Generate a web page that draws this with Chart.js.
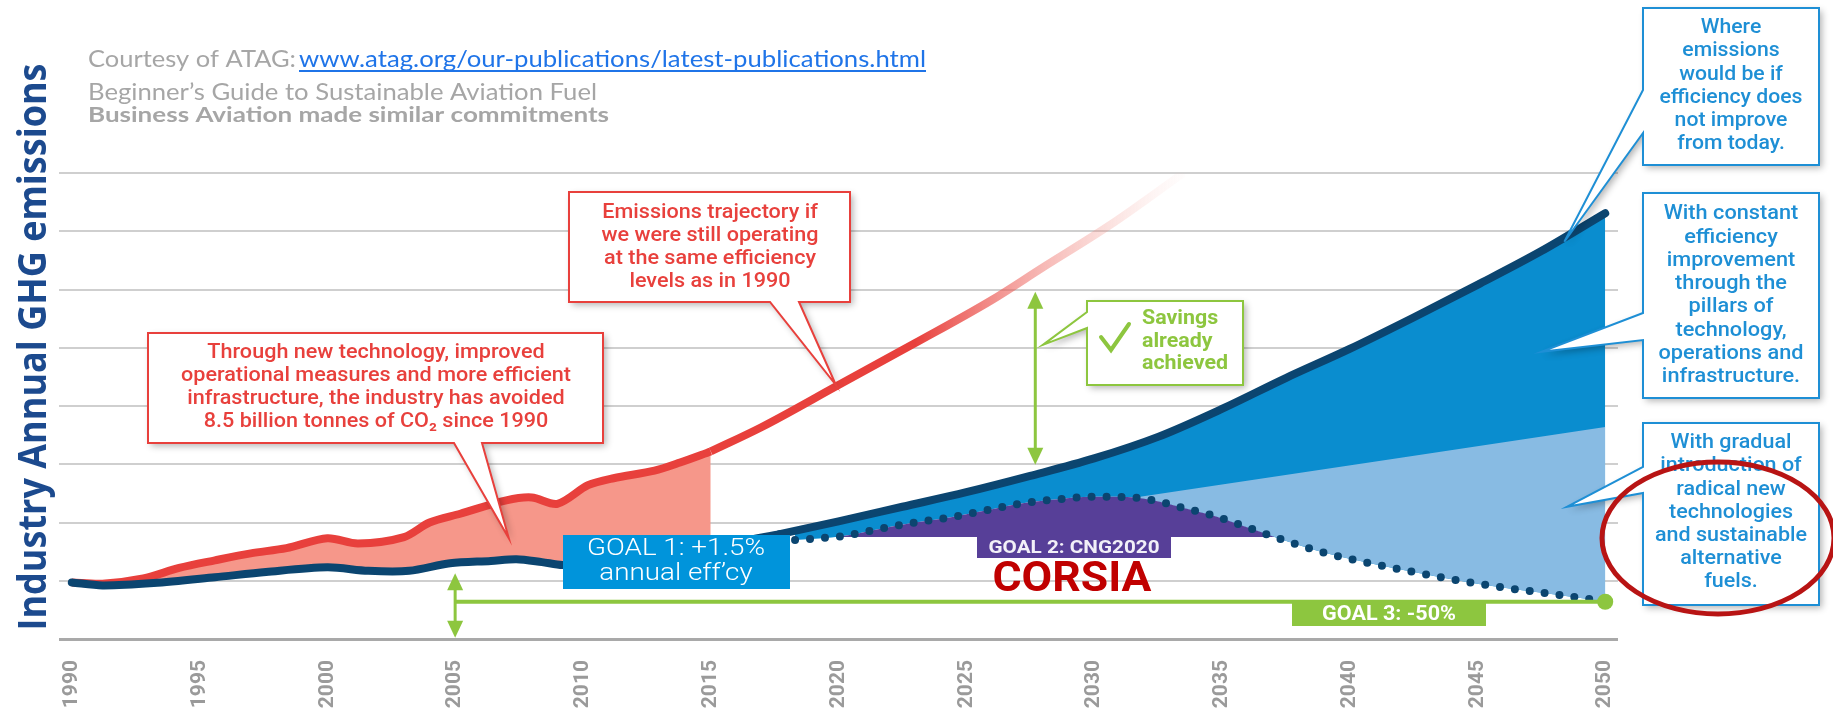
<!DOCTYPE html>
<html>
<head>
<meta charset="utf-8">
<script src="https://cdn.jsdelivr.net/npm/chart.js@4.4.1/dist/chart.umd.min.js"></script>
<style>
html, body { margin: 0; padding: 0; background: #fff; }
#wrap { width: 1833px; height: 708px; position: relative; }
</style>
</head>
<body>
<div id="wrap"><canvas id="ghg"></canvas></div>
<script>
// x axis ticks
var tickYears = [1990, 1995, 2000, 2005, 2010, 2015, 2020, 2025, 2030, 2035, 2040, 2045, 2050];
var tickLabels = ['1990', '1995', '2000', '2005', '2010', '2015', '2020', '2025', '2030', '2035', '2040', '2045', '2050'];

// emissions if still at 1990 efficiency (historic part, filled)
var redPastYears  = [1990, 1991.2, 1992.8, 1994.2, 1995.6, 1997, 1998.4, 2000, 2001.2, 2003, 2004, 2005.2, 2007, 2008, 2009, 2010.2, 2011.2, 2012.8, 2013.8, 2015];
var redPastValues = [0.97, 0.95, 1.04, 1.22, 1.35, 1.47, 1.56, 1.73, 1.64, 1.75, 2.0, 2.15, 2.38, 2.43, 2.32, 2.64, 2.76, 2.89, 3.03, 3.22];
// same trajectory continued (fading out)
var redFutureYears  = [2015, 2017, 2020, 2023, 2026, 2028, 2030.6, 2033.5];
var redFutureValues = [3.22, 3.64, 4.36, 5.08, 5.82, 6.38, 7.10, 8.0];

// actual industry emissions
var navyPastYears  = [1990, 1991.2, 1993.2, 1995.6, 1997.6, 2000, 2001.6, 2003.2, 2004.8, 2006.4, 2007.4, 2008.4, 2009.2, 2010, 2012, 2014, 2016, 2017.7];
var navyPastValues = [0.97, 0.92, 0.96, 1.06, 1.15, 1.23, 1.17, 1.17, 1.30, 1.34, 1.37, 1.32, 1.27, 1.30, 1.42, 1.53, 1.66, 1.80];
// where emissions would be if efficiency does not improve from today
var navyFutureYears  = [2017.7, 2020, 2022.5, 2025, 2027.5, 2030, 2032.5, 2035, 2037.5, 2040, 2042.5, 2045, 2047.5, 2050];
var navyFutureValues = [1.80, 2.02, 2.27, 2.52, 2.80, 3.10, 3.47, 3.95, 4.48, 4.98, 5.52, 6.08, 6.66, 7.31];

// with constant efficiency improvement (top of light blue wedge)
var constEffYears  = [2031.8, 2042, 2050];
var constEffValues = [2.44, 3.11, 3.64];

// net emissions path (dotted), CNG2020 then -50%
var netYears  = [2018.3, 2020.2, 2021.6, 2023, 2024.4, 2025.8, 2027.2, 2028.6, 2029.9, 2031, 2032.2, 2033.5, 2034.8, 2036.1, 2037.4, 2039.1, 2040.8, 2042.5, 2044.2, 2045.9, 2047.6, 2049.6, 2050];
var netValues = [1.70, 1.77, 1.89, 2.00, 2.09, 2.21, 2.33, 2.40, 2.44, 2.44, 2.39, 2.25, 2.10, 1.90, 1.70, 1.47, 1.30, 1.15, 1.01, 0.89, 0.79, 0.67, 0.64];

var cng2020Level = 1.75;
var goal3Level = 0.64;
var goal3Start = 2005;
var savingsYear = 2027.7;
var savingsFrom = 2.99;
var savingsTo = 5.96;

var NAVY = '#0b4570';
var RED = '#e8403c';
var GREEN = '#8dc63f';
var BLUE_TXT = '#1e8fd5';

function pts(xs, ys) {
    return xs.map(function (x, i) { return { x: x, y: ys[i] }; });
}

function redFade(context) {
    var chart = context.chart;
    if (!chart.chartArea) return RED;
    var x0 = chart.scales.x.getPixelForValue(2023);
    var x1 = chart.scales.x.getPixelForValue(2034);
    var g = chart.ctx.createLinearGradient(x0, 0, x1, 0);
    g.addColorStop(0, 'rgba(232,64,60,1)');
    g.addColorStop(0.36, 'rgba(236,90,84,0.55)');
    g.addColorStop(0.68, 'rgba(240,130,120,0.25)');
    g.addColorStop(1, 'rgba(250,200,195,0)');
    return g;
}

function callout(ctx, b, side, p1, p2, tip, color) {
    var x0 = b.x, y0 = b.y, x1 = b.x + b.w, y1 = b.y + b.h;
    ctx.save();
    ctx.beginPath();
    ctx.moveTo(x0, y0);
    ctx.lineTo(x1, y0);
    ctx.lineTo(x1, y1);
    if (side === 'bottom') {
        ctx.lineTo(p2, y1);
        ctx.lineTo(tip[0], tip[1]);
        ctx.lineTo(p1, y1);
        ctx.lineTo(x0, y1);
    } else {
        ctx.lineTo(x0, y1);
        ctx.lineTo(x0, p2);
        ctx.lineTo(tip[0], tip[1]);
        ctx.lineTo(x0, p1);
    }
    ctx.closePath();
    ctx.shadowColor = 'rgba(0,0,0,0.3)';
    ctx.shadowBlur = 7;
    ctx.shadowOffsetX = 3;
    ctx.shadowOffsetY = 3;
    ctx.fillStyle = '#fff';
    ctx.fill();
    ctx.shadowColor = 'rgba(0,0,0,0)';
    ctx.strokeStyle = color;
    ctx.lineWidth = 2;
    ctx.stroke();
    ctx.restore();
}

// text lines squeezed so that line `fit` is `fitW` px wide
function lines(ctx, list, x, y0, step, font, color, align, fit, fitW) {
    ctx.save();
    ctx.font = font;
    var sq = fitW / ctx.measureText(list[fit]).width;
    ctx.fillStyle = color;
    ctx.textAlign = align;
    ctx.textBaseline = 'middle';
    ctx.translate(x, 0);
    ctx.scale(sq, 1);
    list.forEach(function (t, i) { ctx.fillText(t, 0, y0 + i * step); });
    ctx.restore();
}

function fitText(ctx, t, x, y, w, font, color) {
    ctx.save();
    ctx.font = font;
    ctx.fillStyle = color;
    ctx.textAlign = 'left';
    ctx.textBaseline = 'alphabetic';
    var sq = w / ctx.measureText(t).width;
    ctx.translate(x, y);
    ctx.scale(sq, 1);
    ctx.fillText(t, 0, 0);
    ctx.restore();
}

function arrowHead(ctx, x, y, dir, color) {
    ctx.beginPath();
    ctx.moveTo(x, y);
    ctx.lineTo(x - 8, y + dir * 17);
    ctx.lineTo(x + 8, y + dir * 17);
    ctx.closePath();
    ctx.fillStyle = color;
    ctx.fill();
}

var COND = '"Roboto", "Noto Sans", sans-serif';

var overlay = {
    id: 'overlay',
    afterDatasetsDraw: function (chart) {
        var ctx = chart.ctx;
        var sx = chart.scales.x, sy = chart.scales.y;
        var X = function (v) { return sx.getPixelForValue(v); };
        var Y = function (v) { return sy.getPixelForValue(v); };

        // goal 3 line and 2005 arrow
        ctx.save();
        ctx.strokeStyle = GREEN;
        ctx.lineWidth = 4;
        ctx.beginPath();
        ctx.moveTo(X(goal3Start), Y(goal3Level));
        ctx.lineTo(X(2050), Y(goal3Level));
        ctx.stroke();
        ctx.beginPath();
        ctx.arc(X(2050), Y(goal3Level), 8, 0, Math.PI * 2);
        ctx.fillStyle = GREEN;
        ctx.fill();
        ctx.lineWidth = 3;
        ctx.beginPath();
        ctx.moveTo(X(goal3Start), Y(0) - 12);
        ctx.lineTo(X(goal3Start), Y(1.13) + 12);
        ctx.stroke();
        arrowHead(ctx, X(goal3Start), Y(1.13), 1, GREEN);
        arrowHead(ctx, X(goal3Start), Y(0.02), -1, GREEN);

        // savings arrow
        ctx.beginPath();
        ctx.moveTo(X(savingsYear), Y(savingsFrom) - 12);
        ctx.lineTo(X(savingsYear), Y(savingsTo) + 12);
        ctx.stroke();
        arrowHead(ctx, X(savingsYear), Y(savingsTo), 1, GREEN);
        arrowHead(ctx, X(savingsYear), Y(savingsFrom), -1, GREEN);
        ctx.restore();

        // goal 3 label
        ctx.fillStyle = GREEN;
        ctx.fillRect(1292, 603, 194, 23);
        lines(ctx, ['GOAL 3: -50%'], 1389, 615, 0, 'bold 20px ' + COND, '#fff', 'center', 0, 134);

        // goal 1 box
        ctx.fillStyle = '#0094db';
        ctx.fillRect(563, 535, 227, 54);
        lines(ctx, ['GOAL 1: +1.5%', 'annual eff\u2019cy'], 676, 549, 25, '300 24px Roboto', '#fff', 'center', 0, 178);

        // goal 2 box
        ctx.fillStyle = '#573f98';
        ctx.fillRect(977, 537, 194, 21);
        lines(ctx, ['GOAL 2: CNG2020'], 1074, 548, 0, 'bold 19px ' + COND, '#f2f0f8', 'center', 0, 171);
        lines(ctx, ['CORSIA'], 1072, 580, 0, 'bold 42px ' + COND, '#c00000', 'center', 0, 159);

        // red callouts
        callout(ctx, { x: 148, y: 333, w: 455, h: 110 }, 'bottom', 454, 482, [X(2007.1), Y(1.73)], RED);
        lines(ctx, ['Through new technology, improved', 'operational measures and more efficient',
            'infrastructure, the industry has avoided', '8.5 billion tonnes of CO\u2082 since 1990'],
            376, 353, 23, '500 21px ' + COND, RED, 'center', 1, 390);
        callout(ctx, { x: 569, y: 192, w: 281, h: 110 }, 'bottom', 770, 799, [X(2019.9), Y(4.36)], RED);
        lines(ctx, ['Emissions trajectory if', 'we were still operating', 'at the same efficiency', 'levels as in 1990'],
            710, 213, 23, '500 21px ' + COND, RED, 'center', 1, 217);

        // savings callout
        callout(ctx, { x: 1087, y: 301, w: 156, h: 84 }, 'left', 312, 328, [X(2028.0), Y(5.05)], GREEN);
        lines(ctx, ['Savings', 'already', 'achieved'], 1142, 319, 22.5, 'bold 21px ' + COND, GREEN, 'left', 2, 86);
        ctx.save();
        ctx.strokeStyle = GREEN;
        ctx.lineWidth = 4;
        ctx.lineCap = 'round';
        ctx.beginPath();
        ctx.moveTo(1101, 337);
        ctx.lineTo(1111, 350);
        ctx.lineTo(1129, 324);
        ctx.stroke();
        ctx.restore();

        // blue callouts on the right
        callout(ctx, { x: 1643, y: 8, w: 176, h: 157 }, 'left', 90, 133, [X(2048.4), Y(6.82)], BLUE_TXT);
        lines(ctx, ['Where', 'emissions', 'would be if', 'efficiency does', 'not improve', 'from today.'],
            1731, 28, 23.2, '500 21px ' + COND, BLUE_TXT, 'center', 3, 143);
        callout(ctx, { x: 1643, y: 193, w: 176, h: 205 }, 'left', 313, 340, [X(2047.5), Y(4.93)], BLUE_TXT);
        lines(ctx, ['With constant', 'efficiency', 'improvement', 'through the', 'pillars of', 'technology,', 'operations and', 'infrastructure.'],
            1731, 214, 23.3, '500 21px ' + COND, BLUE_TXT, 'center', 6, 145);
        callout(ctx, { x: 1643, y: 423, w: 176, h: 182 }, 'left', 467, 493, [X(2048.5), Y(2.27)], BLUE_TXT);
        lines(ctx, ['With gradual', 'introduction of', 'radical new', 'technologies', 'and sustainable', 'alternative', 'fuels.'],
            1731, 443, 23.2, '500 21px ' + COND, BLUE_TXT, 'center', 4, 152);

        // red highlight oval
        ctx.save();
        ctx.strokeStyle = '#b81414';
        ctx.lineWidth = 5;
        ctx.beginPath();
        ctx.ellipse(1718, 538, 116, 76, 0, 0, Math.PI * 2);
        ctx.stroke();
        ctx.restore();
    },
    afterDraw: function (chart) {
        var ctx = chart.ctx;
        fitText(ctx, 'Courtesy of ATAG:', 88, 67, 208, '24px Lato', '#a6a6a6');
        fitText(ctx, 'www.atag.org/our-publications/latest-publications.html', 299, 67, 627, '24px Lato', '#1f74e8');
        ctx.fillStyle = '#1f74e8';
        ctx.fillRect(299, 70, 627, 2);
        fitText(ctx, 'Beginner\u2019s Guide to Sustainable Aviation Fuel', 88, 100, 509, '24px Lato', '#a6a6a6');
        fitText(ctx, 'Business Aviation made similar commitments', 88, 122, 521, 'bold 21px Lato', '#a6a6a6');

        // y axis title
        ctx.save();
        ctx.translate(46, 347);
        ctx.rotate(-Math.PI / 2);
        ctx.textAlign = 'center';
        ctx.font = 'bold 39px "Open Sans"';
        ctx.fillStyle = '#1c4a8e';
        ctx.fillText('Industry Annual GHG emissions', 0, 0, 567);
        ctx.restore();
    }
};

var ctx1 = document.getElementById('ghg').getContext('2d');
var ghgChart = new Chart(ctx1, {
    type: 'line',
    data: {
        datasets: [{
                label: 'Net emissions',
                data: pts(netYears, netValues),
                borderColor: NAVY,
                borderWidth: 8,
                borderDash: [0, 15],
                borderCapStyle: 'round',
                pointRadius: 0,
                cubicInterpolationMode: 'monotone',
                fill: { target: { value: cng2020Level }, above: '#573f98', below: 'rgba(0,0,0,0)' }
            },
            {
                label: 'Constant efficiency improvement',
                data: pts(constEffYears, constEffValues),
                borderColor: 'rgba(0,0,0,0)',
                borderWidth: 0,
                pointRadius: 0,
                fill: { target: 0, above: '#88bbe3', below: '#88bbe3' }
            },
            {
                label: 'No further improvement',
                data: pts(navyFutureYears, navyFutureValues),
                borderColor: NAVY,
                borderWidth: 8,
                borderCapStyle: 'round',
                pointRadius: 0,
                cubicInterpolationMode: 'monotone',
                fill: { target: 0, above: '#0a8dcf', below: '#0a8dcf' }
            },
            {
                label: '1990 efficiency trajectory',
                data: pts(redFutureYears, redFutureValues),
                borderColor: redFade,
                borderWidth: 8,
                pointRadius: 0,
                cubicInterpolationMode: 'monotone',
                fill: false
            },
            {
                label: 'Actual emissions',
                data: pts(navyPastYears, navyPastValues),
                borderColor: NAVY,
                borderWidth: 8,
                borderCapStyle: 'round',
                pointRadius: 0,
                tension: 0.3,
                fill: false
            },
            {
                label: '1990 efficiency',
                data: pts(redPastYears, redPastValues),
                borderColor: RED,
                borderWidth: 8,
                pointRadius: 0,
                tension: 0.3,
                fill: { target: 4, above: '#f6978a', below: '#f6978a' }
            }
        ]
    },
    options: {
        responsive: true,
        maintainAspectRatio: false,
        animation: false,
        layout: { padding: { left: 59, right: 215, top: 173, bottom: 0 } },
        plugins: {
            legend: { display: false },
            tooltip: { enabled: false },
            filler: { drawTime: 'beforeDatasetsDraw' }
        },
        scales: {
            x: {
                type: 'linear',
                min: 1989.5,
                max: 2050.5,
                grid: { display: false, drawTicks: false },
                border: { display: false },
                afterBuildTicks: function (scale) {
                    scale.ticks = tickYears.map(function (v) { return { value: v }; });
                },
                afterFit: function (scale) { scale.height = 69; },
                ticks: {
                    autoSkip: false,
                    minRotation: 90,
                    maxRotation: 90,
                    padding: 21,
                    color: '#9a9a9a',
                    font: { family: 'Roboto', size: 21, weight: 'bold' },
                    callback: function (v) { return tickLabels[tickYears.indexOf(v)]; }
                }
            },
            y: {
                min: 0,
                max: 8,
                ticks: { display: false, stepSize: 1 },
                border: { display: false },
                grid: {
                    drawTicks: false,
                    color: function (c) { return c.tick && c.tick.value === 0 ? '#a9a9a9' : '#cfcfcf'; },
                    lineWidth: function (c) { return c.tick && c.tick.value === 0 ? 3 : 2; }
                },
                afterFit: function (scale) { scale.width = 0; }
            }
        }
    },
    plugins: [overlay]
});
</script>
</body>
</html>
